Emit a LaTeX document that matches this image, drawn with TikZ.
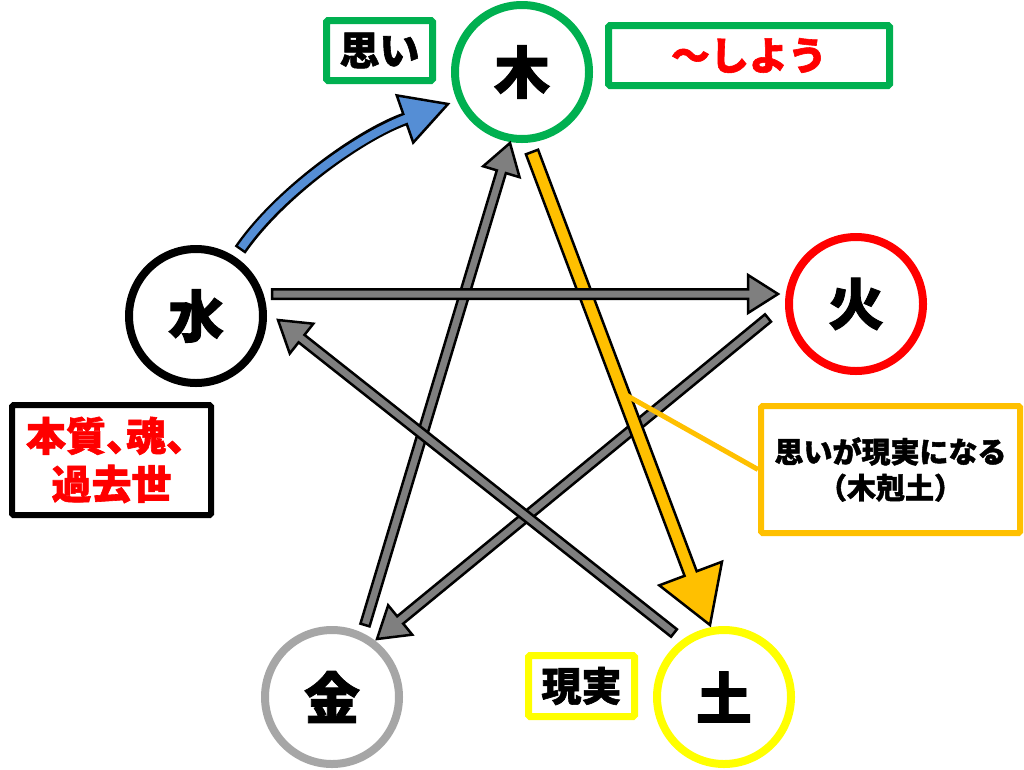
\documentclass[tikz,border=0pt]{standalone}
\usepackage{fontspec}
\newfontfamily\jp{Noto Sans CJK JP}[BoldFeatures={FakeBold=1.5}]
\usetikzlibrary{calc}
\definecolor{mokuG}{HTML}{00B050}
\definecolor{kaR}{HTML}{FF0000}
\definecolor{kinG}{HTML}{A6A6A6}
\definecolor{tsuchiY}{HTML}{FFFF00}
\definecolor{orangeC}{HTML}{FFC000}
\definecolor{grayA}{HTML}{7F7F7F}
\definecolor{blueA}{HTML}{558ED5}
\newcommand\FatArrow[6]{%
  \coordinate (fa-base) at ($(#2)!#4!(#1)$);
  \draw[arrowline, fill=#6] ($(#1)!#3!90:(#2)$) -- ($(fa-base)!#3!90:(#2)$) -- ($(fa-base)!#5!90:(#2)$) -- (#2) -- ($(fa-base)!#5!-90:(#2)$) -- ($(fa-base)!#3!-90:(#2)$) -- ($(#1)!#3!-90:(#2)$) -- cycle;
}
\tikzset{
  elem/.style={circle, minimum size=134pt, line width=8pt, inner sep=0pt, font=\jp\bfseries\fontsize{56}{56}\selectfont},
  lbl/.style={rectangle, rounded corners=1.5pt, line width=7pt, inner sep=0pt, fill=white, align=center},
  arrowline/.style={draw=black, line width=2.5pt, line join=miter},
}
\begin{document}
\begin{tikzpicture}[x=1pt,y=-1pt]
\useasboundingbox (0,0) rectangle (1024,769);
\fill[white] (0,0) rectangle (1024,769);

% elements
\node[elem, draw=mokuG] (moku) at (522,72) {\raisebox{-3pt}{木}};
\node[elem, draw=kaR] (ka) at (856,304) {\raisebox{-3pt}{火}};
\node[elem, draw=black] (mizu) at (196,316) {\raisebox{-3pt}{水}};
\node[elem, draw=kinG] (kin) at (332,697) {\raisebox{-3pt}{金}};
\node[elem, draw=tsuchiY] (tsuchi) at (724,697) {\raisebox{-3pt}{土}};

% labels
\node[lbl, draw=mokuG, minimum width=106pt, minimum height=60pt, font=\jp\bfseries\fontsize{40}{40}\selectfont] (omoi) at (379.5,50.5) {思い};
\node[lbl, draw=mokuG, minimum width=281pt, minimum height=60pt, text=kaR, font=\jp\bfseries\fontsize{39}{39}\selectfont] (shiyou) at (749,55.5) {〜しよう};
\node[lbl, draw=tsuchiY, minimum width=106pt, minimum height=61pt, font=\jp\bfseries\fontsize{40}{40}\selectfont] (genjitsu) at (581.5,686) {現実};
\node[lbl, draw=black, line width=6pt, minimum width=199pt, minimum height=110pt, text=kaR, font=\jp\bfseries\fontsize{40}{48}\selectfont] (honshitsu) at (111.5,460) {本質\makebox[0.5em][l]{、}魂\makebox[0.5em][l]{、}\hspace*{11pt}\\過去世};
\node[lbl, draw=orangeC, line width=6pt, minimum width=259pt, minimum height=127pt, font=\jp\bfseries\fontsize{29}{36}\selectfont] (callbox) at (890.5,469.5) {思いが現実になる\\（木剋土）};

% arrow end points
\coordinate (kinA) at ($(kin)+(33,-72)$);
\coordinate (mokuB) at ($(moku)+(-12,71)$);
\coordinate (kaA) at ($(ka)+(-88,14)$);
\coordinate (kinB) at ($(kin)+(45,-58)$);
\coordinate (mokuA) at ($(moku)+(10,80)$);
\coordinate (tsuchiB) at ($(tsuchi)+(-14,-72)$);
\coordinate (tsuchiA) at ($(tsuchi)+(-50,-64)$);
\coordinate (mizuB) at ($(mizu)+(82,4)$);
\coordinate (mizuA) at ($(mizu)+(76,-22)$);
\coordinate (kaB) at ($(ka)+(-78,-10)$);

% arrows
\FatArrow{kinA}{mokuB}{4.75pt}{30pt}{19pt}{grayA}
\FatArrow{kaA}{kinB}{4.75pt}{30pt}{19pt}{grayA}
\FatArrow{mokuA}{tsuchiB}{6.5pt}{55pt}{33.5pt}{orangeC}
\FatArrow{tsuchiA}{mizuB}{4.75pt}{30pt}{19pt}{grayA}
\FatArrow{mizuA}{kaB}{4.75pt}{30pt}{19pt}{grayA}

% curved blue arrow
\coordinate (bS) at ($(mizu)+(44,-66)$);
\coordinate (bC1) at ($(mizu)+(84,-124)$);
\coordinate (bC2) at ($(moku)+(-160,62)$);
\coordinate (bM) at ($(moku)+(-117,47)$);
\coordinate (bT) at ($(moku)+(-74,32)$);
\draw[line width=13pt, black] (bS) .. controls (bC1) and (bC2) .. (bM);
\draw[arrowline, fill=blueA] ($(bM)!25pt!90:(bT)$) -- (bT) -- ($(bM)!25pt!-90:(bT)$) -- cycle;
\draw[line width=8pt, blueA, shorten <=2.5pt, shorten >=-5pt] (bS) .. controls (bC1) and (bC2) .. (bM);

% callout
\draw[line width=5pt, orangeC] (callbox.west) -- ($(mokuA)!0.51!(tsuchiB)$);
\end{tikzpicture}
\end{document}
